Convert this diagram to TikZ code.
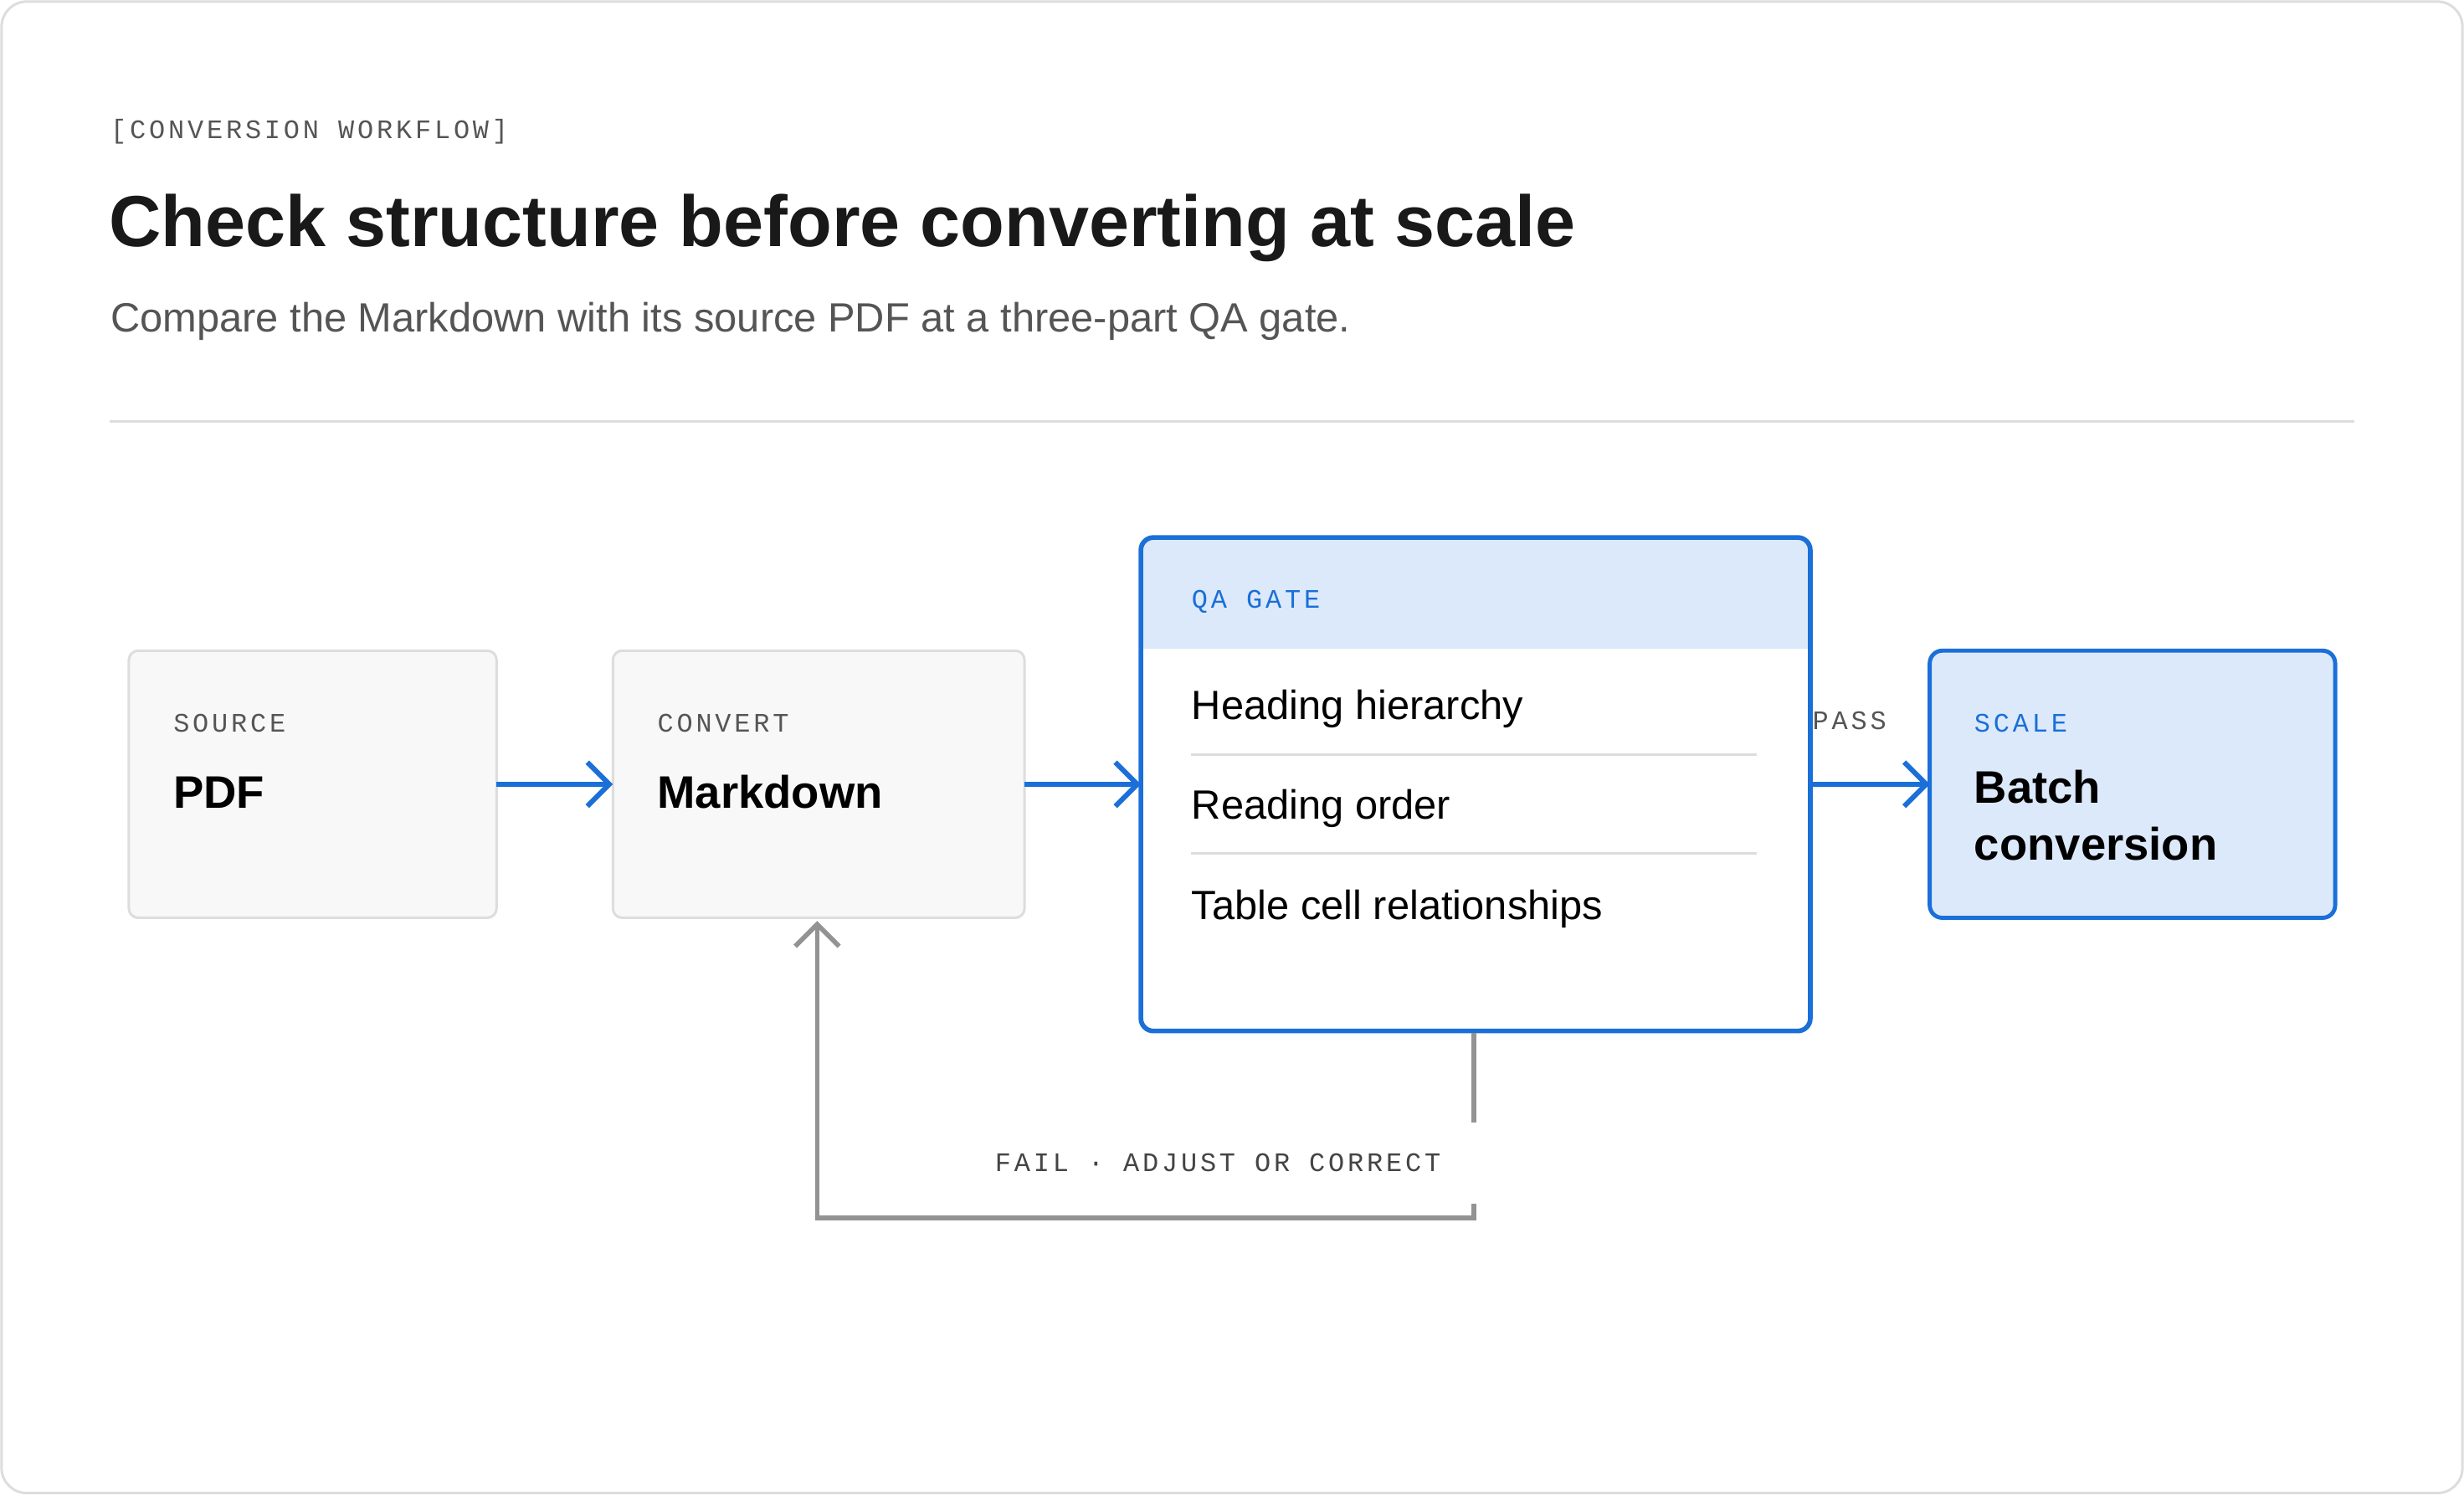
\documentclass[tikz,border=0pt]{standalone}
\usepackage{fontspec}
\setmainfont{Liberation Sans}
\newfontfamily\monof{Liberation Mono}[LetterSpace=12]
\usetikzlibrary{arrows.meta}
\definecolor{blu}{HTML}{1A6FD8}
\definecolor{lblu}{HTML}{DCE9FB}
\definecolor{bor}{HTML}{DDDDDD}
\definecolor{gbox}{HTML}{F8F8F8}
\definecolor{txtg}{HTML}{555555}
\begin{document}
\begin{tikzpicture}[x=0.5pt,y=-0.5pt,
  mono/.style={font=\monof\fontsize{8.5}{10}\selectfont,anchor=base west,inner sep=0},
  lbl/.style={font=\fontsize{13}{15}\selectfont,anchor=base west,inner sep=0},
  big/.style={font=\bfseries\fontsize{14.5}{18}\selectfont,anchor=base west,inner sep=0,align=left},
  arr/.style={draw=blu,line width=1.6pt,-{Straight Barb[length=7pt,width=14pt,line width=1.6pt]}},
  box/.style={draw=bor,fill=gbox,line width=0.8pt,rounded corners=3pt}]
\useasboundingbox (0,0) rectangle (1568,951);
\draw[bor,line width=0.8pt,rounded corners=8pt] (1,1) rectangle (1567,950);
\node[mono,text=txtg] (tag) at (70,88) {[CONVERSION WORKFLOW]};
\node[inner sep=0,anchor=base west,font=\bfseries\fontsize{23}{28}\selectfont,text=black!90] (title) at (69,157) {Check structure before converting at scale};
\node[inner sep=0,anchor=base west,font=\fontsize{13}{16}\selectfont,text=txtg] (sub) at (70,211) {Compare the Markdown with its source PDF at a three-part QA gate.};
\draw[bor,line width=0.8pt] (70,268) -- (1498,268);
% source
\draw[box] (82,414) rectangle (316,584);
\node[mono,text=txtg] (s1) at (110,466) {SOURCE};
\node[big] (s2) at (110,514) {PDF};
\coordinate (sE) at (316,499);
% convert
\draw[box] (390,414) rectangle (652,584);
\node[mono,text=txtg] (c1) at (418,466) {CONVERT};
\node[big] (c2) at (418,514) {Markdown};
\coordinate (cW) at (390,499);
\coordinate (cE) at (652,499);
\coordinate (cS) at (520,586);
% QA
\fill[white,rounded corners=4pt] (726,342) rectangle (1152,656);
\begin{scope}
\clip[rounded corners=4pt] (726,342) rectangle (1152,656);
\fill[lblu] (726,342) rectangle (1152,413);
\end{scope}
\draw[blu,line width=1.5pt,rounded corners=4pt] (726,342) rectangle (1152,656);
\node[mono,text=blu] (q0) at (758,387) {QA GATE};
\node[lbl] (q1) at (758,458) {Heading hierarchy};
\draw[bor,line width=0.7pt] (758,480) -- (1118,480);
\node[lbl] (q2) at (758,521) {Reading order};
\draw[bor,line width=0.7pt] (758,543) -- (1118,543);
\node[lbl] (q3) at (758,585) {Table cell relationships};
\coordinate (qW) at (726,499);
\coordinate (qE) at (1152,499);
\coordinate (qS) at (938,657);
% scale
\draw[blu,fill=lblu,line width=1.3pt,rounded corners=4pt] (1228,414) rectangle (1486,584);
\node[mono,text=blu] (b1) at (1256,466) {SCALE};
\node[big] (b2) at (1256,511) {Batch};
\node[big] (b3) at (1256,547) {conversion};
\coordinate (bW) at (1228,499);
% arrows
\draw[arr] (sE) -- (cW);
\draw[arr] (cE) -- (qW);
\draw[arr] (qE) -- (bW);
\node[mono,text=txtg] (pass) at (1153,464) {PASS};
\coordinate (f1) at (938,775);
\coordinate (f2) at (520,775);
\draw[draw=gray!85,line width=1.5pt,-{Straight Barb[length=7pt,width=14pt,line width=1.5pt]}] (qS) -- (f1) -- (f2) -- (cS);
\node[fill=white,inner xsep=12pt,inner ysep=10pt,font=\monof\fontsize{8.5}{10}\selectfont,text=txtg!80!black] (fail) at (775,740) {FAIL · ADJUST OR CORRECT};
\end{tikzpicture}
\end{document}
